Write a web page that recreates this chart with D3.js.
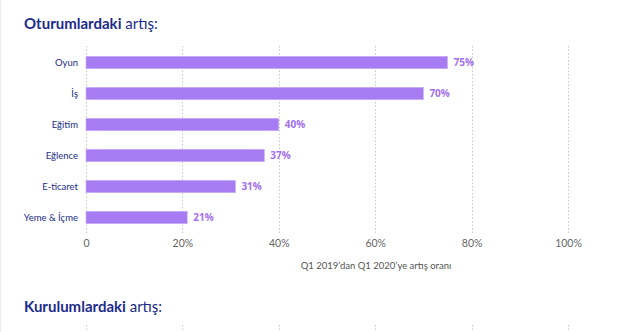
<!DOCTYPE html>
<html><head><meta charset="utf-8">
<script src="https://cdn.jsdelivr.net/npm/d3@7"></script>
<style>
html,body{margin:0;padding:0;background:#fff;overflow:hidden;}
svg{display:block;font-family:"Open Sans",Lato,sans-serif;}
</style></head><body>
<svg id="c" width="637" height="332"></svg>
<script>
const categories = ["Oyun","İş","Eğitim","Eğlence","E-ticaret","Yeme & İçme"];
const values = [75,70,40,37,31,21];
const tickValues = [0,20,40,60,80,100];
const tickLabels = ["0","20%","40%","60%","80%","100%"];
const title1Bold = "Oturumlardaki", title1Rest = " artış:";
const title2Bold = "Kurulumlardaki", title2Rest = " artış:";
const axisTitle = "Q1 2019’dan Q1 2020’ye artış oranı";

const svg = d3.select("#c");
const navy = "#1c2b8c", purple = "#a77bf1", labelPurple = "#a46ff0";

svg.append("line").attr("x1",0.5).attr("x2",0.5).attr("y1",0).attr("y2",332)
  .attr("stroke","#eeeeee").attr("stroke-width",1);

const x = d3.scaleLinear().domain([0,100]).range([86,568]);
const y = d3.scaleBand().domain(categories).range([47,233]).paddingInner(0.6).paddingOuter(0.3);

function title(txtB, txtR, yy){
  const t = svg.append("text").attr("x",24).attr("y",yy).attr("font-size",15).attr("fill",navy)
    .attr("font-family","Lato, 'Open Sans', sans-serif");
  t.append("tspan").attr("font-weight",700).text(txtB);
  t.append("tspan").attr("font-weight",400).text(txtR);
}
title(title1Bold,title1Rest,29);
title(title2Bold,title2Rest,312);

// gridlines
svg.append("g").selectAll("line").data(tickValues).join("line")
  .attr("x1",d=>Math.round(x(d))+0.5).attr("x2",d=>Math.round(x(d))+0.5)
  .attr("y1",46).attr("y2",233)
  .attr("stroke","#c8c8c8").attr("stroke-width",1).attr("stroke-dasharray","1.5,2");
svg.append("g").selectAll("line").data(tickValues).join("line")
  .attr("x1",d=>Math.round(x(d))+0.5).attr("x2",d=>Math.round(x(d))+0.5)
  .attr("y1",325).attr("y2",340)
  .attr("stroke","#c8c8c8").attr("stroke-width",1).attr("stroke-dasharray","1.5,2");

// bars
svg.append("g").selectAll("rect").data(values).join("rect")
  .attr("x",x(0)).attr("y",(d,i)=>y(categories[i]))
  .attr("width",d=>x(d)-x(0)).attr("height",y.bandwidth())
  .attr("fill",purple).attr("stroke","#c9b0f7").attr("stroke-width",0.6);

// value labels
svg.append("g").selectAll("text").data(values).join("text")
  .attr("x",d=>x(d)+6).attr("y",(d,i)=>y(categories[i])+y.bandwidth()/2)
  .attr("dy","0.35em").attr("font-size",10).attr("font-weight",700)
  .attr("fill",labelPurple).text(d=>d+"%");

// category labels
const yAxis = d3.axisLeft(y).tickSize(0).tickPadding(8);
const ya = svg.append("g").attr("transform",`translate(${x(0)},0)`).call(yAxis);
ya.select(".domain").remove();
ya.selectAll("text").attr("font-size",9.5).attr("fill",navy)
  .attr("font-family","Lato, 'Open Sans', sans-serif");

// x axis
const xAxis = d3.axisBottom(x).tickValues(tickValues).tickFormat((d,i)=>tickLabels[i]).tickSize(0).tickPadding(6);
const xa = svg.append("g").attr("transform","translate(0,234)").call(xAxis);
xa.select(".domain").remove();
xa.selectAll("text").attr("font-size",10.5).attr("fill","#666").attr("font-weight",400)
  .attr("font-family","Lato, 'Open Sans', sans-serif");

svg.append("text").attr("x",376).attr("y",269).attr("text-anchor","middle")
  .attr("font-size",9.5).attr("fill","#555").attr("font-family","Lato, 'Open Sans', sans-serif")
  .text(axisTitle);
</script></body></html>
